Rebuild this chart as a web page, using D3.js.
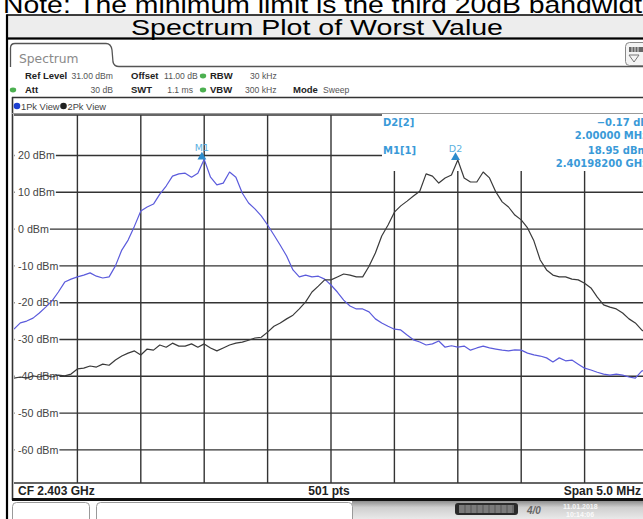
<!DOCTYPE html>
<html>
<head>
<meta charset="utf-8">
<script src="https://cdn.jsdelivr.net/npm/d3@7"></script>
<style>
  html, body { margin: 0; padding: 0; background: #fff; overflow: hidden; }
  svg { display: block; }
</style>
</head>
<body>
<svg id="chart" width="643" height="519"></svg>
<script>
// Sweep settings: CF 2.403 GHz, span 5.0 MHz, reference level 31 dBm, 10 dB/div
const startFreqGHz = 2.4005;
const stopFreqGHz = 2.4055;
const refLevel = 31;
const bottomLevel = -69;
const freqStepMHz = 0.05;
const levelTicks = [20, 10, 0, -10, -20, -30, -40, -50, -60];
const freqGridGHz = [2.401, 2.4015, 2.402, 2.4025, 2.403, 2.4035, 2.404, 2.4045, 2.405];

// Trace 1 (1Pk View), dBm every 0.05 MHz from the start frequency
const trace1 = [
  -27.2, -25.5, -25.0, -24.2, -22.8, -21.2, -19.5, -17.1, -14.4, -13.6,
  -13.0, -12.5, -11.9, -12.8, -13.3, -13.0, -10.0, -5.7, -3.0, 0.8,
  4.9, 6.0, 6.8, 9.5, 11.7, 14.4, 15.0, 15.2, 14.1, 15.2,
  18.95, 14.1, 12.0, 12.5, 15.5, 14.1, 9.8, 7.1, 5.5, 3.6,
  1.1, -1.6, -4.4, -7.3, -11.1, -13.0, -12.5, -13.0, -12.8, -13.6,
  -15.2, -17.1, -19.3, -20.9, -21.7, -21.7, -22.5, -24.4, -25.5, -26.4,
  -27.2, -27.4, -28.8, -30.1, -30.7, -31.5, -31.2, -30.4, -32.1, -31.7,
  -32.1, -31.8, -32.9, -32.3, -31.8, -32.3, -32.6, -32.9, -33.1, -32.8,
  -32.9, -33.7, -34.2, -34.5, -35.0, -36.1, -35.0, -35.8, -35.6, -36.7,
  -37.8, -38.3, -38.9, -39.4, -39.7, -39.4, -39.7, -40.2, -40.5, -38.6,
  -38.1
];

// Trace 2 (2Pk View), dBm every 0.05 MHz from the start frequency
const trace2 = [
  -40.5, -40.2, -40.5, -39.9, -40.2, -39.7, -40.2, -39.7, -39.9, -39.4,
  -38.0, -37.8, -37.2, -37.5, -36.7, -37.0, -35.6, -34.5, -33.7, -33.1,
  -34.2, -32.6, -32.9, -31.5, -32.1, -31.0, -31.8, -31.8, -31.2, -32.1,
  -31.2, -32.3, -33.1, -32.3, -31.5, -31.0, -30.7, -30.2, -29.6, -29.4,
  -28.0, -26.4, -25.5, -24.4, -23.4, -21.7, -19.8, -17.1, -15.5, -13.8,
  -13.8, -13.0, -12.2, -12.5, -13.0, -13.0, -10.1, -6.5, -1.9, 1.1,
  4.6, 6.3, 7.6, 9.0, 10.3, 15.0, 14.4, 12.5, 13.9, 14.7,
  18.78, 13.9, 12.8, 12.8, 15.5, 13.9, 10.1, 7.4, 6.0, 3.8,
  2.5, 0.3, -3.2, -8.4, -11.1, -12.5, -13.0, -13.0, -13.6, -13.8,
  -14.7, -16.0, -18.5, -20.6, -21.2, -21.7, -22.8, -24.4, -25.5, -27.4,
  -28.5
];

// Markers
const m1FreqGHz = 2.401982;
const m1Level = 18.95;
const d2DeltaMHz = 2.0;
const d2DeltaDb = -0.17;

const headerRow1 = [
  { label: "Ref Level", value: "31.00 dBm" },
  { label: "Offset", value: "11.00 dB" },
  { label: "RBW", value: "30 kHz" }
];
const headerRow2 = [
  { label: "Att", value: "30 dB" },
  { label: "SWT", value: "1.1 ms" },
  { label: "VBW", value: "300 kHz" },
  { label: "Mode", value: "Sweep" }
];

const svg = d3.select("#chart");
const W = 643, H = 519;
const plot = { left: 14, right: 648, top: 115, bottom: 483 };
const markerBox = { left: 382, bottom: 171 };

const x = d3.scaleLinear().domain([startFreqGHz, stopFreqGHz]).range([plot.left, plot.right]);
const y = d3.scaleLinear().domain([bottomLevel, refLevel]).range([plot.bottom, plot.top]);
const freqAt = i => startFreqGHz + i * freqStepMHz / 1000;

const uiFont = "'Liberation Sans', Arial, sans-serif";
const rsFont = "'DejaVu Sans', Verdana, sans-serif";
const markerColor = "#3a9ad8";

// ---------- document frame ----------
svg.append("rect").attr("width", W).attr("height", H).attr("fill", "#fff");

svg.append("text")
  .attr("x", 3).attr("y", 12.5)
  .attr("font-family", uiFont).attr("font-size", 24)
  .attr("textLength", 655).attr("lengthAdjust", "spacingAndGlyphs")
  .attr("fill", "#000")
  .text("Note: The minimum limit is the third 20dB bandwidth");

svg.append("rect").attr("x", 7).attr("y", 15).attr("width", W).attr("height", 23.5)
  .attr("fill", "#ededed").attr("stroke", "#000").attr("stroke-width", 1.5);
svg.append("text")
  .attr("x", 131).attr("y", 35)
  .attr("font-family", uiFont).attr("font-size", 22)
  .attr("textLength", 372).attr("lengthAdjust", "spacingAndGlyphs")
  .attr("fill", "#000")
  .text("Spectrum Plot of Worst Value");

svg.append("line").attr("x1", 7).attr("x2", W).attr("y1", 38.5).attr("y2", 38.5)
  .attr("stroke", "#000").attr("stroke-width", 2);
svg.append("line").attr("x1", 7).attr("x2", 7).attr("y1", 14.5).attr("y2", H)
  .attr("stroke", "#000").attr("stroke-width", 2.2);

// ---------- instrument header ----------
const tab = d3.path();
tab.moveTo(10.5, 67);
tab.lineTo(10.5, 48);
tab.quadraticCurveTo(10.5, 43.5, 15, 43.5);
tab.lineTo(106, 43.5);
tab.quadraticCurveTo(111, 43.5, 112, 50);
tab.lineTo(113, 62);
tab.quadraticCurveTo(114, 66.5, 119, 66.5);
tab.lineTo(W, 66.5);
svg.append("path").attr("d", tab.toString()).attr("fill", "none")
  .attr("stroke", "#555").attr("stroke-width", 1.3);
svg.append("text").attr("x", 19).attr("y", 63)
  .attr("font-family", rsFont).attr("font-size", 12.3).attr("fill", "#8a8a8a")
  .text("Spectrum");

// small settings icon in the tab row
const icon = svg.append("g");
icon.append("rect").attr("x", 625.5).attr("y", 42.5).attr("width", 24).attr("height", 23).attr("rx", 4)
  .attr("fill", "#f4f4f4").attr("stroke", "#888");
icon.append("rect").attr("x", 629).attr("y", 47).attr("width", 14).attr("height", 5)
  .attr("fill", "#666");
icon.selectAll("line.seg").data([632, 635, 638]).join("line")
  .attr("x1", d => d).attr("x2", d => d).attr("y1", 47).attr("y2", 52)
  .attr("stroke", "#ddd").attr("stroke-width", 1);
icon.append("path").attr("d", "M629,55 L639,55 L634,62 Z").attr("fill", "none").attr("stroke", "#777");

function headerRow(items, xs, yBase) {
  items.forEach((it, i) => {
    svg.append("text").attr("x", xs[i].label).attr("y", yBase)
      .attr("font-family", uiFont).attr("font-size", 9.5).attr("font-weight", "bold").attr("fill", "#222")
      .text(it.label);
    svg.append("text").attr("x", xs[i].value).attr("y", yBase)
      .attr("text-anchor", xs[i].anchor || "start")
      .attr("font-family", uiFont).attr("font-size", 8.6).attr("fill", "#555")
      .text(it.value);
  });
}
headerRow(headerRow1, [
  { label: 25, value: 113, anchor: "end" },
  { label: 131, value: 164 },
  { label: 210, value: 250 }
], 79);
headerRow(headerRow2, [
  { label: 25, value: 113, anchor: "end" },
  { label: 131, value: 193, anchor: "end" },
  { label: 210, value: 245 },
  { label: 293, value: 323 }
], 93);
[[203, 76], [203, 90], [13, 90]].forEach(([cx, cy]) => {
  svg.append("ellipse").attr("cx", cx).attr("cy", cy).attr("rx", 3.2).attr("ry", 2.4).attr("fill", "#4cb050");
});

// ---------- diagram frame ----------
svg.append("line").attr("x1", 12).attr("x2", W).attr("y1", 97.5).attr("y2", 97.5)
  .attr("stroke", "#333").attr("stroke-width", 1.6);
svg.append("line").attr("x1", 12.5).attr("x2", 12.5).attr("y1", 97).attr("y2", 500)
  .attr("stroke", "#333").attr("stroke-width", 1.6);
svg.append("line").attr("x1", 12).attr("x2", W).attr("y1", 113.5).attr("y2", 113.5)
  .attr("stroke", "#999").attr("stroke-width", 1);

// trace legend
svg.append("circle").attr("cx", 17).attr("cy", 106).attr("r", 3.3).attr("fill", "#1c3fd0");
svg.append("text").attr("x", 21).attr("y", 109.5)
  .attr("font-family", uiFont).attr("font-size", 9.3).attr("fill", "#444").text("1Pk View");
svg.append("circle").attr("cx", 63.5).attr("cy", 106).attr("r", 3.3).attr("fill", "#222");
svg.append("text").attr("x", 67.5).attr("y", 109.5)
  .attr("font-family", uiFont).attr("font-size", 9.3).attr("fill", "#444").text("2Pk View");

// ---------- grid ----------
const grid = svg.append("g").attr("stroke", "#333").attr("stroke-width", 1.4);
grid.selectAll("line.v").data(freqGridGHz).join("line")
  .attr("x1", d => x(d)).attr("x2", d => x(d))
  .attr("y1", d => x(d) > markerBox.left ? markerBox.bottom : plot.top)
  .attr("y2", plot.bottom);
grid.selectAll("line.h").data([refLevel, ...levelTicks, bottomLevel]).join("line")
  .attr("x1", plot.left)
  .attr("x2", d => y(d) < markerBox.bottom ? markerBox.left : W)
  .attr("y1", d => y(d)).attr("y2", d => y(d));

// level labels sit on a white patch over the grid lines
const yLabels = svg.append("g");
levelTicks.forEach(v => {
  const g = yLabels.append("g");
  const t = g.append("text").attr("x", 18).attr("y", y(v) + 3.8)
    .attr("font-family", uiFont).attr("font-size", 10.7).attr("fill", "#444")
    .text(`${v} dBm`);
  const w = t.node().getComputedTextLength();
  g.insert("rect", "text").attr("x", 14.5).attr("y", y(v) - 6).attr("width", w + 4.5).attr("height", 12)
    .attr("fill", "#fff");
});

// ---------- traces ----------
svg.append("clipPath").attr("id", "plotClip")
  .append("rect").attr("x", plot.left).attr("y", plot.top - 2)
  .attr("width", plot.right - plot.left).attr("height", plot.bottom - plot.top + 2);

const line = d3.line().x((d, i) => x(freqAt(i))).y(d => y(d));
const traces = svg.append("g").attr("clip-path", "url(#plotClip)").attr("fill", "none")
  .attr("stroke-linejoin", "round");
traces.append("path").attr("d", line(trace1)).attr("stroke", "#5b5bdc").attr("stroke-width", 1.2);
traces.append("path").attr("d", line(trace2)).attr("stroke", "#3a3a3a").attr("stroke-width", 1.2);

// ---------- markers ----------
const d2Freq = m1FreqGHz + d2DeltaMHz / 1000;
const d2Level = m1Level + d2DeltaDb;
const tri = d3.symbol().type(d3.symbolTriangle).size(34);
[[m1FreqGHz, m1Level, "M1"], [d2Freq, d2Level, "D2"]].forEach(([f, l, name]) => {
  svg.append("path").attr("d", tri())
    .attr("transform", `translate(${x(f)},${y(l) - 2.5})`)
    .attr("fill", "#2d8ccc");
  svg.append("text").attr("x", x(f)).attr("y", y(l) - 8).attr("text-anchor", "middle")
    .attr("font-family", rsFont).attr("font-size", 9.5).attr("fill", "#5ab0e0")
    .text(name);
});

// marker table
const mt = svg.append("g").attr("font-family", rsFont).attr("font-size", 10)
  .attr("font-weight", "bold").attr("fill", markerColor);
mt.append("text").attr("x", 383).attr("y", 126).text("D2[2]");
mt.append("text").attr("x", 383).attr("y", 154).text("M1[1]");
const fmt2 = d3.format(".2f");
[
  [126, `${fmt2(d2DeltaDb)} dB`],
  [139, `${d3.format(".5f")(d2DeltaMHz)} MHz`],
  [154, `${fmt2(m1Level)} dBm`],
  [167, `${d3.format(".8f")(m1FreqGHz)} GHz`]
].forEach(([yy, s]) => {
  mt.append("text").attr("x", 648).attr("y", yy).attr("text-anchor", "end").text(s);
});

// ---------- footer ----------
const foot = svg.append("g").attr("font-family", uiFont).attr("font-size", 12)
  .attr("font-weight", "bold").attr("fill", "#222");
foot.append("text").attr("x", 18).attr("y", 495).text(`CF ${d3.format(".3f")((startFreqGHz + stopFreqGHz) / 2)} GHz`);
foot.append("text").attr("x", x((startFreqGHz + stopFreqGHz) / 2) - 2).attr("y", 495)
  .attr("text-anchor", "middle").text("501 pts");
foot.append("text").attr("x", 641).attr("y", 495).attr("text-anchor", "end")
  .text(`Span ${d3.format(".1f")((stopFreqGHz - startFreqGHz) * 1000)} MHz`);

svg.append("line").attr("x1", 12).attr("x2", W).attr("y1", 499.5).attr("y2", 499.5)
  .attr("stroke", "#111").attr("stroke-width", 3);

// status bar
const defs = svg.append("defs");
const grad = defs.append("linearGradient").attr("id", "statusGrad").attr("x1", 0).attr("x2", 0).attr("y1", 0).attr("y2", 1);
grad.append("stop").attr("offset", 0).attr("stop-color", "#8e8e8e");
grad.append("stop").attr("offset", 0.35).attr("stop-color", "#cfcfcf");
grad.append("stop").attr("offset", 1).attr("stop-color", "#e9e9e9");
svg.append("rect").attr("x", 352).attr("y", 501).attr("width", W - 352).attr("height", 18).attr("fill", "url(#statusGrad)");

svg.append("rect").attr("x", 12.5).attr("y", 502.5).attr("width", 77).attr("height", 22).attr("rx", 4)
  .attr("fill", "#fff").attr("stroke", "#9a9a9a");
svg.append("rect").attr("x", 96.5).attr("y", 502.5).attr("width", 256).attr("height", 22).attr("rx", 4)
  .attr("fill", "#fff").attr("stroke", "#9a9a9a");

const bar = svg.append("g");
bar.append("rect").attr("x", 455).attr("y", 503).attr("width", 63).attr("height", 12).attr("rx", 3).attr("fill", "#2a2a2a");
bar.append("rect").attr("x", 459).attr("y", 505).attr("width", 55).attr("height", 8).attr("fill", "#7a7a7a");
bar.selectAll("line").data(d3.range(465, 514, 6)).join("line")
  .attr("x1", d => d).attr("x2", d => d).attr("y1", 505).attr("y2", 513)
  .attr("stroke", "#555").attr("stroke-width", 1);
svg.append("text").attr("x", 527).attr("y", 514)
  .attr("font-family", uiFont).attr("font-size", 10).attr("font-style", "italic").attr("font-weight", "bold")
  .attr("fill", "#666").text("4/0");
const stamp = svg.append("g").attr("font-family", uiFont).attr("font-size", 7).attr("font-weight", "bold")
  .attr("fill", "#fff").attr("opacity", 0.85);
stamp.append("text").attr("x", 563).attr("y", 509).text("11.01.2018");
stamp.append("text").attr("x", 566).attr("y", 517).text("10:14:06");
</script>
</body>
</html>
